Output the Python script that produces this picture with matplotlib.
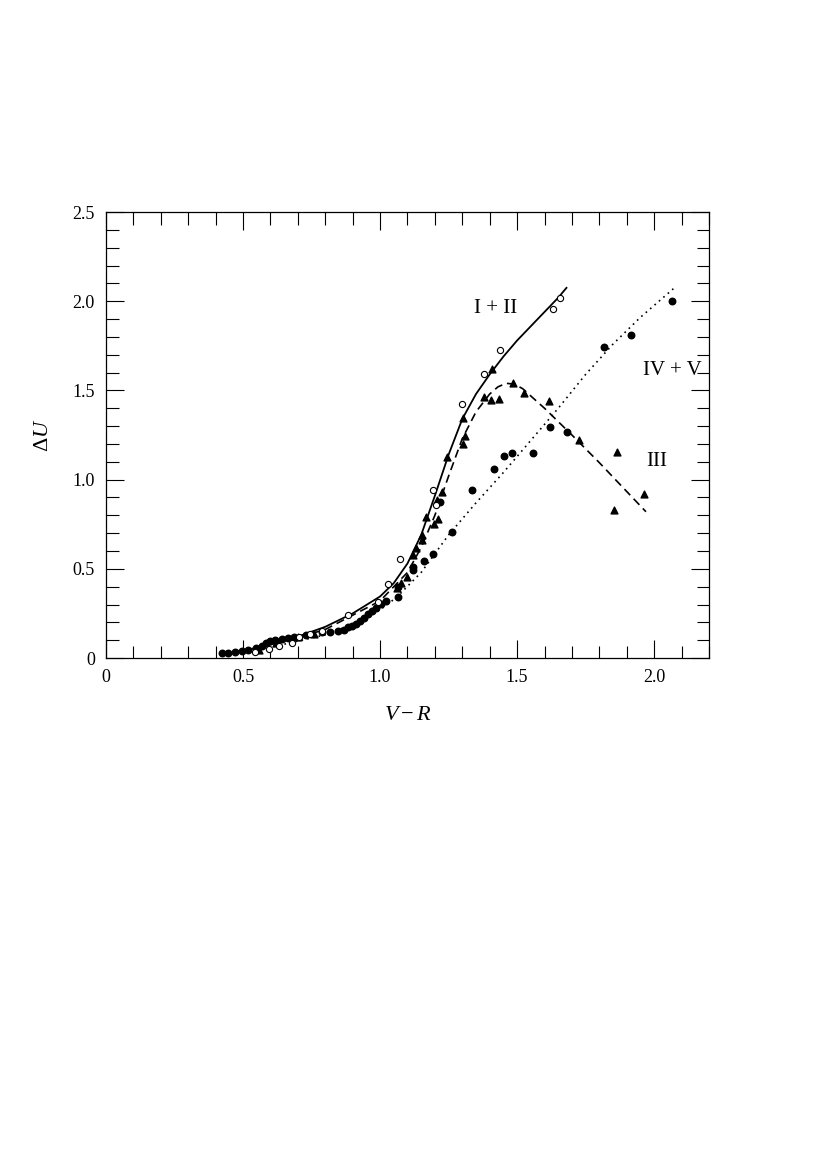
import matplotlib
matplotlib.use("Agg")
import matplotlib.pyplot as plt
from matplotlib.ticker import MultipleLocator, FuncFormatter

plt.rcParams['font.family'] = ['Liberation Serif', 'DejaVu Serif']
plt.rcParams['mathtext.fontset'] = 'custom'
plt.rcParams['mathtext.it'] = 'Liberation Serif:italic'
plt.rcParams['mathtext.rm'] = 'Liberation Serif'

# open circles (classes I + II)
open_x = [0.544, 0.595, 0.631, 0.679, 0.704, 0.745, 0.788, 0.883, 0.993, 1.029,
          1.073, 1.193, 1.204, 1.299, 1.380, 1.438, 1.631, 1.657]
open_y = [0.034, 0.050, 0.067, 0.084, 0.118, 0.134, 0.151, 0.241, 0.314, 0.415,
          0.555, 0.942, 0.858, 1.424, 1.592, 1.726, 1.956, 2.018]

# filled circles (classes IV + V)
dot_x = [0.423, 0.445, 0.470, 0.496, 0.518, 0.547, 0.569, 0.584, 0.600, 0.617,
         0.642, 0.664, 0.686, 0.730, 0.788, 0.818, 0.847, 0.869, 0.883, 0.898,
         0.912, 0.927, 0.942, 0.956, 0.971, 0.985, 1.004, 1.022, 1.066, 1.066,
         1.120, 1.120, 1.160, 1.193, 1.219, 1.263, 1.336, 1.416, 1.453, 1.482,
         1.558, 1.620, 1.683, 1.818, 1.916, 2.066]
dot_y = [0.028, 0.028, 0.034, 0.040, 0.045, 0.056, 0.067, 0.084, 0.095, 0.100,
         0.106, 0.112, 0.118, 0.129, 0.146, 0.146, 0.151, 0.157, 0.174, 0.179,
         0.191, 0.207, 0.224, 0.247, 0.263, 0.280, 0.303, 0.320, 0.342, 0.400,
         0.493, 0.510, 0.544, 0.583, 0.874, 0.706, 0.942, 1.059, 1.132, 1.149,
         1.149, 1.295, 1.267, 1.743, 1.810, 2.000]

# triangles (class III)
tri_x = [0.560, 0.620, 0.700, 0.760, 1.060, 1.075, 1.099, 1.120, 1.131, 1.153,
         1.153, 1.168, 1.197, 1.208, 1.212, 1.226, 1.245, 1.303, 1.303, 1.310,
         1.380, 1.405, 1.409, 1.434, 1.485, 1.526, 1.617, 1.726, 1.854, 1.865,
         1.964]
tri_y = [0.045, 0.085, 0.120, 0.135, 0.390, 0.420, 0.454, 0.577, 0.617, 0.661,
         0.689, 0.790, 0.751, 0.886, 0.779, 0.930, 1.127, 1.200, 1.345, 1.244,
         1.463, 1.446, 1.620, 1.452, 1.541, 1.485, 1.440, 1.222, 0.830, 1.155,
         0.919]

# fitted curves
fit12_x = [0.42, 0.5, 0.6, 0.7, 0.8, 0.9, 1.0, 1.05, 1.1, 1.15, 1.2, 1.25,
           1.3, 1.35, 1.4, 1.45, 1.5, 1.55, 1.6, 1.65, 1.68]
fit12_y = [0.02, 0.04, 0.075, 0.12, 0.175, 0.25, 0.345, 0.42, 0.53, 0.69,
           0.91, 1.14, 1.34, 1.48, 1.59, 1.69, 1.78, 1.86, 1.94, 2.02, 2.075]

fit3_x = [0.42, 0.6, 0.8, 1.0, 1.1, 1.15, 1.2, 1.25, 1.3, 1.35, 1.4, 1.43,
          1.46, 1.49, 1.52, 1.6, 1.7, 1.8, 1.97]
fit3_y = [0.02, 0.07, 0.16, 0.32, 0.48, 0.62, 0.80, 1.02, 1.23, 1.38, 1.48,
          1.52, 1.54, 1.535, 1.51, 1.40, 1.25, 1.095, 0.82]

fit45_x = [0.42, 0.6, 0.8, 0.9, 1.0, 1.06, 1.15, 1.25, 1.35, 1.45, 1.55,
           1.65, 1.75, 1.85, 1.95, 2.07]
fit45_y = [0.02, 0.06, 0.13, 0.19, 0.27, 0.34, 0.48, 0.69, 0.87, 1.04, 1.22,
           1.40, 1.59, 1.76, 1.91, 2.07]

fig = plt.figure(figsize=(8.3, 11.74), dpi=100)
ax = fig.add_axes([0.1277, 0.4395, 0.7265, 0.3799])

ax.plot(fit12_x, fit12_y, color='black', lw=1.3, ls='-')
ax.plot(fit3_x, fit3_y, color='black', lw=1.2, ls=(0, (5, 3)))
ax.plot(fit45_x, fit45_y, color='black', lw=1.2, ls=(0, (1, 2.5)))

ax.scatter(dot_x, dot_y, s=22, marker='o', color='black', zorder=3)
ax.scatter(tri_x, tri_y, s=24, marker='^', color='black', zorder=3)
ax.scatter(open_x, open_y, s=20, marker='o', facecolors='white',
           edgecolors='black', linewidths=0.8, zorder=4)

ax.text(1.42, 1.96, 'I + II', fontsize=15, ha='center', va='center')
ax.text(2.066, 1.61, 'IV + V', fontsize=15, ha='center', va='center')
ax.text(2.01, 1.1, 'III', fontsize=15, ha='center', va='center')

ax.set_xlim(0, 2.2)
ax.set_ylim(0, 2.5)
ax.xaxis.set_major_locator(MultipleLocator(0.5))
ax.xaxis.set_minor_locator(MultipleLocator(0.1))
ax.yaxis.set_major_locator(MultipleLocator(0.5))
ax.yaxis.set_minor_locator(MultipleLocator(0.1))
fmt = FuncFormatter(lambda v, p: '0' if abs(v) < 1e-9 else f'{v:.1f}')
ax.xaxis.set_major_formatter(fmt)
ax.yaxis.set_major_formatter(fmt)
ax.tick_params(which='both', direction='in', top=True, right=True,
               labelsize=13, pad=8)
ax.tick_params(which='major', length=13, width=0.8)
ax.tick_params(which='minor', length=9, width=0.8)
for sp in ax.spines.values():
    sp.set_linewidth(0.9)

ax.set_xlabel('$V - R$', fontsize=16, labelpad=14)
ax.set_ylabel(r'$\Delta U$', fontsize=16, labelpad=14)

fig.savefig('out.png', dpi=100)
